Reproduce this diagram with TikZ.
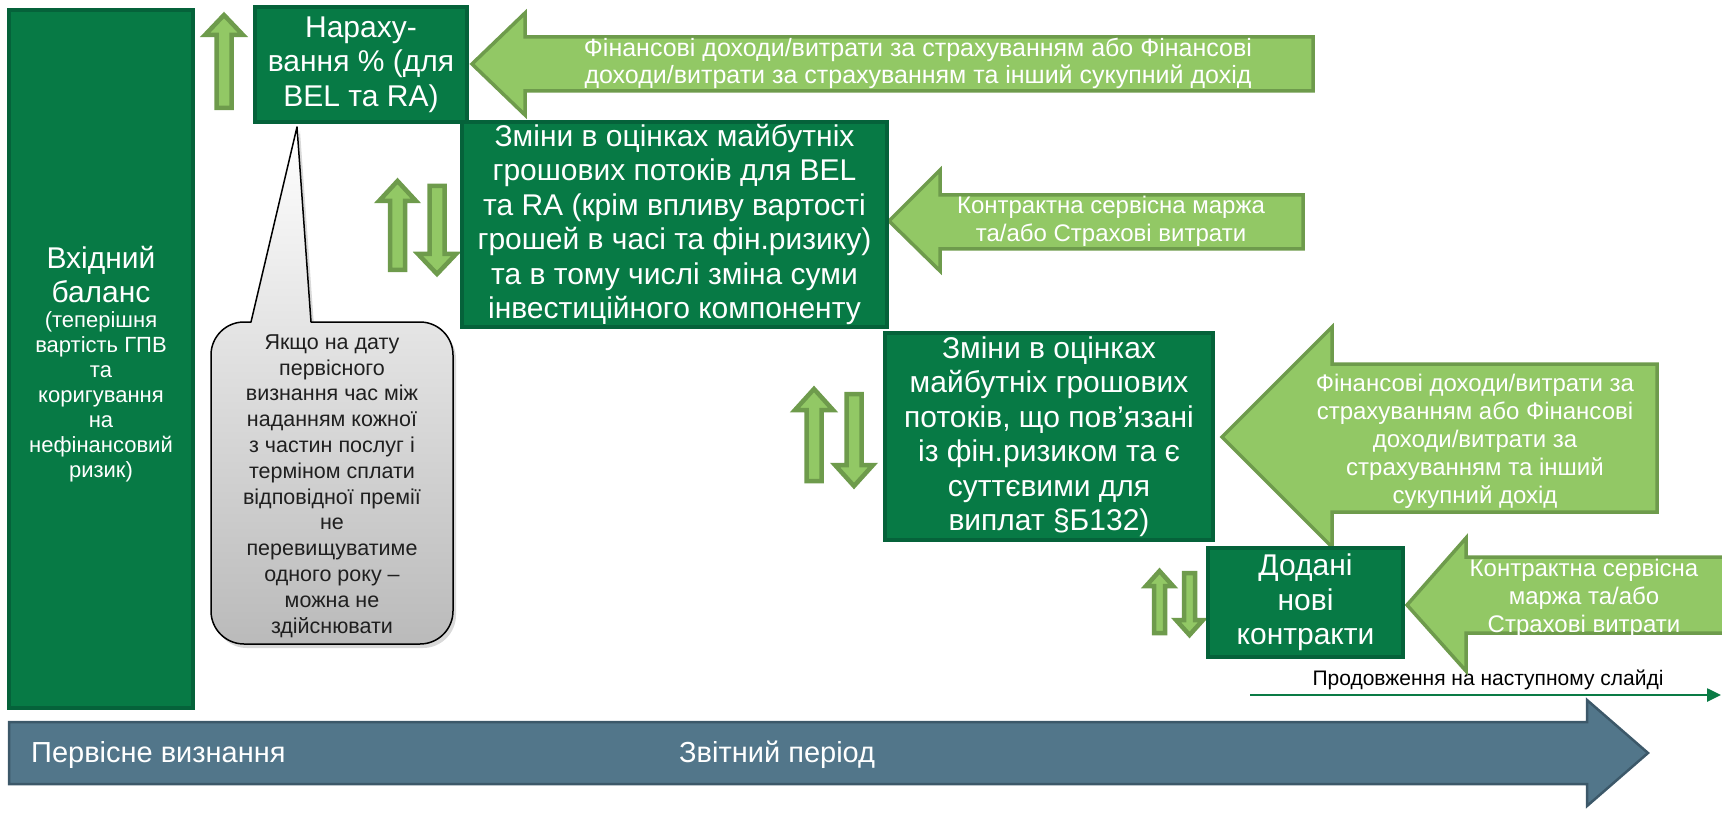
\documentclass[tikz,border=0pt]{standalone}
\usepackage{fontspec}
\setmainfont{Liberation Sans}
\usetikzlibrary{shadows,arrows.meta}

\definecolor{boxgreen}{HTML}{077A45}
\definecolor{boxedge}{HTML}{05623A}
\definecolor{arrfill}{HTML}{92C865}
\definecolor{arredge}{HTML}{6E9B4C}
\definecolor{timefill}{HTML}{52768A}
\definecolor{timeedge}{HTML}{3C5869}
\definecolor{linegreen}{HTML}{0A7B45}

% vertical block arrows: centre x, top y, bottom y, head half width, shaft half width, head length
\newcommand{\vupblock}[6]{%
  \draw[smallarrow] ({#1-#5},#3) -- ({#1-#5},{#2+#6}) -- ({#1-#4},{#2+#6}) -- (#1,#2)
    -- ({#1+#4},{#2+#6}) -- ({#1+#5},{#2+#6}) -- ({#1+#5},#3) -- cycle;}
\newcommand{\vdownblock}[6]{%
  \draw[smallarrow] ({#1-#5},#2) -- ({#1-#5},{#3-#6}) -- ({#1-#4},{#3-#6}) -- (#1,#3)
    -- ({#1+#4},{#3-#6}) -- ({#1+#5},{#3-#6}) -- ({#1+#5},#2) -- cycle;}

\tikzset{
  stagebox/.style={draw=boxedge, fill=boxgreen, line width=3.5pt, text=white,
    align=center, inner sep=0pt, font=\fontsize{30}{34.5}\selectfont},
  bigarrow/.style={draw=arredge, fill=arrfill, line width=3.5pt, line join=miter},
  smallarrow/.style={draw=arredge, fill=arrfill, line width=4.5pt, line join=miter},
  arrowlabel/.style={text=white, align=center, inner sep=0pt,
    font=\fontsize{24}{28}\selectfont},
  timeline/.style={fill=timefill, draw=timeedge, line width=2.5pt, line join=miter},
  timelabel/.style={text=white, inner sep=0pt, font=\fontsize{29}{34}\selectfont},
  calloutlabel/.style={text=black!88, align=center, inner sep=0pt,
    font=\fontsize{21.5}{25.8}\selectfont}
}

\begin{document}
\begin{tikzpicture}[x=1pt,y=-1pt]
\useasboundingbox (0,0) rectangle (1722,813);

% reporting period time line
\path[timeline] (9,722) -- (1587,722) -- (1587,700) -- (1648,753) -- (1587,806)
  -- (1587,784) -- (9,784) -- cycle;
\node[timelabel, anchor=west] (initial) at (31,755) {Первісне визнання};
\node[timelabel, anchor=west] (period) at (679,755) {Звітний період};

% continuation to the next slide
\coordinate (contstart) at (1250,695);
\coordinate (contend) at (1721,695);
\draw[linegreen, line width=2.5pt, -{Triangle[length=14pt,width=13pt]}] (contstart) -- (contend);
\node[inner sep=0pt, font=\fontsize{21}{25}\selectfont] (contlabel) at (1488,680)
  {Продовження на наступному слайді};

% block arrows pointing at the stages
\path[bigarrow] (472,64) -- (525,13) -- (525,37) -- (1313,37) -- (1313,91)
  -- (525,91) -- (525,115) -- cycle;
\node[arrowlabel, font=\fontsize{25}{27}\selectfont] (finA) at (918,63)
  {Фінансові доходи/витрати за страхуванням або Фінансові\\
   доходи/витрати за страхуванням та інший сукупний дохід};

\path[bigarrow] (889,221) -- (940,170) -- (940,195) -- (1303,195) -- (1303,249)
  -- (940,249) -- (940,271) -- cycle;
\node[arrowlabel] (csmA) at (1111,221)
  {Контрактна сервісна маржа\\та/або Страхові витрати};

\path[bigarrow] (1222,437) -- (1332,327) -- (1332,364) -- (1657,364) -- (1657,512)
  -- (1332,512) -- (1332,547) -- cycle;
\node[arrowlabel] (finB) at (1475,441)
  {Фінансові доходи/витрати за\\страхуванням або Фінансові\\доходи/витрати за\\
   страхуванням та інший\\сукупний дохід};

\path[bigarrow] (1407,605) -- (1466,538) -- (1466,557) -- (1730,557) -- (1730,633)
  -- (1466,633) -- (1466,671) -- cycle;
\node[arrowlabel] (csmB) at (1584,598)
  {Контрактна сервісна\\маржа та/або\\Страхові витрати};

% up and down movements
\vupblock{224}{15}{108}{19}{7.5}{20}
\vupblock{397.5}{181}{270}{18.5}{7.5}{20}
\vdownblock{437}{186}{274}{19}{7.5}{20}
\vupblock{814}{389}{481}{19}{7.5}{21}
\vdownblock{854}{394}{486}{19}{7.5}{21}
\vupblock{1159.5}{571}{633}{13.5}{5.5}{15}
\vdownblock{1189.5}{573}{635}{13.5}{5.5}{15}

% stages
\node[stagebox, minimum width=184pt, minimum height=698pt] (opening) at (101,359) {};
\node[text=white, align=center, inner sep=0pt, font=\fontsize{30}{34}\selectfont]
  (openingtitle) at (101,275) {Вхідний\\баланс};
\node[text=white, align=center, inner sep=0pt, font=\fontsize{22}{25}\selectfont]
  (openingnote) at (101,397)
  {(теперішня\\вартість ГПВ\\та\\коригування\\на\\нефінансовий\\ризик)};

\node[stagebox, minimum width=212pt, minimum height=115pt] (accrual) at (361,64.5)
  {Нараху-\\вання \% (для\\BEL та RA)};
\node[stagebox, minimum width=425pt, minimum height=205pt] (estimates) at (674.5,224.5)
  {Зміни в оцінках майбутніх\\грошових потоків для BEL\\та RA (крім впливу вартості\\
   грошей в часі та фін.ризику)\\та в тому числі зміна суми\\інвестиційного компоненту};
\node[stagebox, minimum width=328pt, minimum height=207pt] (finrisk) at (1049,436.5)
  {Зміни в оцінках\\майбутніх грошових\\потоків, що пов’язані\\із фін.ризиком та є\\
   суттєвими для\\виплат §Б132)};
\node[stagebox, minimum width=195pt, minimum height=109pt] (newcontracts) at (1305.5,602.5)
  {Додані\\нові\\контракти};

% note on the accrual of interest: rounded box with a pointer, shaded top to bottom
\path[draw=black, line width=1.5pt, line join=round, top color=white, bottom color=black!27,
  drop shadow={opacity=0.3, shadow xshift=3pt, shadow yshift=-4pt}]
  (251,322) -- (297,127) -- (311,322)
  -- (420,322) .. controls (438.2,322) and (453,336.8) .. (453,355)
  -- (453,611) .. controls (453,629.2) and (438.2,644) .. (420,644)
  -- (244,644) .. controls (225.8,644) and (211,629.2) .. (211,611)
  -- (211,355) .. controls (211,336.8) and (225.8,322) .. (244,322) -- cycle;
\node[calloutlabel] (note) at (332,486)
  {Якщо на дату\\первісного\\визнання час між\\наданням кожної\\з частин послуг і\\
   терміном сплати\\відповідної премії\\не\\перевищуватиме\\одного року –\\можна не\\здійснювати};
\end{tikzpicture}
\end{document}
